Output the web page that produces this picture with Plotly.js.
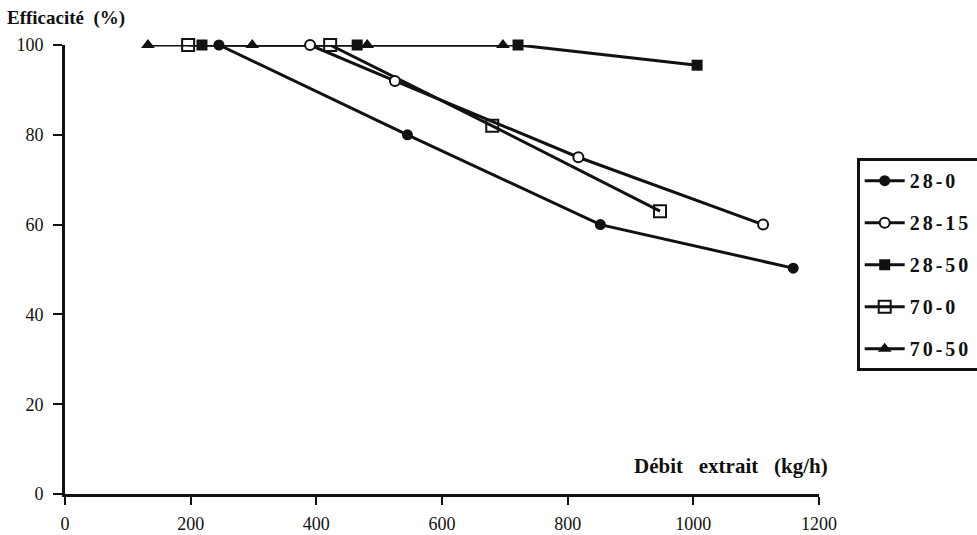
<!DOCTYPE html>
<html>
<head>
<meta charset="utf-8">
<script src="https://cdn.plot.ly/plotly-3.0.1.min.js"></script>
<style>html,body{margin:0;padding:0;background:#fff;}#chart{width:977px;height:535px;}
.legendtext{letter-spacing:3px;}</style>
</head>
<body>
<div id="chart"></div>
<script>
// Data
const seriesNames = ["28-0", "28-15", "28-50", "70-0", "70-50"];
const x_28_0  = [245, 545, 852, 1159];
const y_28_0  = [100, 80, 60, 50.3];
const x_28_15 = [390, 525, 817, 1111];
const y_28_15 = [100, 92, 75, 60];
const x_28_50 = [218, 465, 721, 1006];
const y_28_50 = [100, 100, 100, 95.5];
const x_70_0  = [196, 422, 680, 947];
const y_70_0  = [100, 100, 82, 63];
const x_70_50 = [132, 298, 481, 697];
const y_70_50 = [100, 100, 100, 100];
const xTicks = [0, 200, 400, 600, 800, 1000, 1200];
const yTicks = [0, 20, 40, 60, 80, 100];

const serif = "Liberation Serif, Times New Roman, serif";
const lineStyle = {color: "#111", width: 3};

function tr(name, xs, ys, marker, group, rank) {
  return {
    type: "scatter", mode: "lines+markers", name: name, x: xs, y: ys,
    line: lineStyle, marker: marker, cliponaxis: false, legendgroup: group, legendrank: rank
  };
}

const traces = [
  tr(seriesNames[4], x_70_50, y_70_50, {symbol: "triangle-up", size: 12, color: "#111"}, "g5", 5),
  tr(seriesNames[3], x_70_0, y_70_0, {symbol: "square-open", size: 12, color: "#111", line: {width: 2, color: "#111"}}, "g4", 4),
  tr(seriesNames[2], x_28_50, y_28_50, {symbol: "square", size: 11, color: "#111"}, "g3", 3),
  tr(seriesNames[1], x_28_15, y_28_15, {symbol: "circle", size: 10, color: "#fff", line: {width: 2, color: "#111"}}, "g2", 2),
  tr(seriesNames[0], x_28_0, y_28_0, {symbol: "circle", size: 11, color: "#111"}, "g1", 1)
];

const layout = {
  width: 977, height: 535,
  paper_bgcolor: "#fff", plot_bgcolor: "#fff",
  margin: {l: 65, r: 158, t: 45, b: 41, autoexpand: false},
  font: {family: serif, color: "#111", size: 16},
  showlegend: true,
  legend: {
    x: 1.05, xanchor: "left", y: 0.748, yanchor: "top",
    bordercolor: "#111", borderwidth: 3, bgcolor: "#fff",
    font: {family: serif, size: 20, weight: "bold", color: "#111"},
    tracegroupgap: 13, traceorder: "grouped", itemwidth: 40
  },
  xaxis: {
    range: [0, 1200], tickvals: xTicks, ticktext: xTicks.map(String),
    showgrid: false, zeroline: false, showline: true, linecolor: "#111", linewidth: 3,
    ticks: "outside", ticklen: 8, tickwidth: 2, tickcolor: "#111",
    ticklabelstandoff: 3, tickfont: {family: serif, size: 18, color: "#111"}
  },
  yaxis: {
    range: [0, 100], tickvals: yTicks, ticktext: yTicks.map(String),
    showgrid: false, zeroline: false, showline: true, linecolor: "#111", linewidth: 3,
    ticks: "outside", ticklen: 9, tickwidth: 2, tickcolor: "#111",
    ticklabelstandoff: 6, tickfont: {family: serif, size: 18, color: "#111"}
  },
  annotations: [
    {text: "<b>Efficacité\u00a0 (%)</b>", xref: "paper", yref: "paper", x: -0.08, y: 1.06,
     xanchor: "left", yanchor: "middle", showarrow: false, font: {family: serif, size: 19, color: "#111"}},
    {text: "<b>Débit\u00a0\u00a0 extrait\u00a0\u00a0 (kg/h)</b>", xref: "paper", yref: "paper", x: 0.883, y: 0.062,
     xanchor: "center", yanchor: "middle", showarrow: false, font: {family: serif, size: 21, color: "#111"}}
  ]
};

Plotly.newPlot("chart", traces, layout, {displayModeBar: false, staticPlot: true});
</script>
</body>
</html>
